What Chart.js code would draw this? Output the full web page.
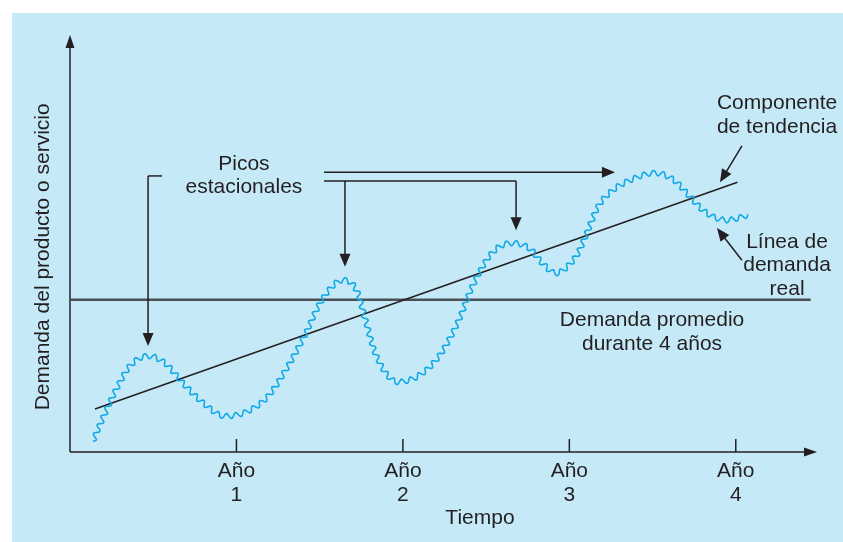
<!DOCTYPE html>
<html>
<head>
<meta charset="utf-8">
<title>Demanda del producto o servicio</title>
<script src="https://cdn.jsdelivr.net/npm/chart.js"></script>
<style>
  html, body { margin: 0; padding: 0; background: #fff; }
  canvas { display: block; }
</style>
</head>
<body>
<canvas id="grafico" width="843" height="542"></canvas>
<script>
  // Datos: x en años (0 = eje vertical), y en unidades de demanda (0-100)
  const demandaX = [0.138, 0.198, 0.270, 0.360, 0.469, 0.571, 0.679, 0.799, 0.931, 1.069,
                    1.190, 1.310, 1.412, 1.514, 1.640, 1.724, 1.772, 1.838, 1.971, 2.103,
                    2.223, 2.331, 2.421, 2.535, 2.656, 2.764, 2.842, 2.920, 2.992, 3.052,
                    3.112, 3.172, 3.256, 3.365, 3.515, 3.635, 3.725, 3.815, 3.947, 4.074];
  const demandaY = [2.6, 8.2, 14.4, 20.6, 23.0, 21.3, 16.5, 11.8, 8.6, 9.8,
                    13.4, 20.6, 28.1, 36.5, 41.2, 38.6, 32.1, 23.3, 16.8, 18.5,
                    23.3, 31.2, 40.0, 47.7, 50.1, 48.7, 45.1, 42.9, 44.6, 47.7,
                    53.2, 58.8, 62.6, 65.2, 66.9, 65.0, 61.2, 57.6, 55.6, 56.8];
  const tendenciaX = [0.15, 4.01];
  const tendenciaY = [10.3, 64.7];
  const promedioX = [0, 4.45];
  const promedioY = [36.5, 36.5];
  const anios = [1, 2, 3, 4];
  const etiquetasAnio = [['Año', '1'], ['Año', '2'], ['Año', '3'], ['Año', '4']];
  const tituloX = 'Tiempo';
  const tituloY = 'Demanda del producto o servicio';

  const FUENTE = '21px "Liberation Sans", Arial, sans-serif';
  const TINTA = '#231f20';
  const CELESTE = '#c6e9f8';
  const ONDA = '#0fa9e6';

  const aPuntos = (xs, ys) => xs.map((x, i) => ({ x: x, y: ys[i] }));

  // flecha con punta rellena
  function flecha(ctx, x0, y0, x1, y1, largo, medio) {
    const ang = Math.atan2(y1 - y0, x1 - x0);
    const c = Math.cos(ang), s = Math.sin(ang);
    ctx.beginPath();
    ctx.moveTo(x0, y0);
    ctx.lineTo(x1 - c * largo * 0.7, y1 - s * largo * 0.7);
    ctx.stroke();
    ctx.beginPath();
    ctx.moveTo(x1, y1);
    ctx.lineTo(x1 - c * largo - s * medio, y1 - s * largo + c * medio);
    ctx.lineTo(x1 - c * largo + s * medio, y1 - s * largo - c * medio);
    ctx.closePath();
    ctx.fill();
  }

  function textos(ctx, lineas, x, y0, paso) {
    lineas.forEach((t, i) => ctx.fillText(t, x, y0 + i * paso));
  }

  const fondo = {
    id: 'fondo',
    beforeDraw(chart) {
      const ctx = chart.ctx;
      ctx.save();
      ctx.fillStyle = '#fff';
      ctx.fillRect(0, 0, chart.width, chart.height);
      ctx.fillStyle = CELESTE;
      ctx.fillRect(12, 13, chart.width - 12, chart.height - 13);
      ctx.restore();
    }
  };

  // ejes, marcas y rotulos
  const ejes = {
    id: 'ejes',
    beforeDatasetsDraw(chart) {
      const { ctx, chartArea: a, scales: { x, y } } = chart;
      ctx.save();
      ctx.strokeStyle = TINTA;
      ctx.fillStyle = TINTA;
      ctx.lineWidth = 1.5;
      flecha(ctx, a.left, a.bottom, a.left, a.top, 13, 4.5);
      flecha(ctx, a.left, a.bottom, a.right - 2, a.bottom, 13, 4.5);
      anios.forEach(v => {
        const px = x.getPixelForValue(v);
        ctx.beginPath();
        ctx.moveTo(px, a.bottom);
        ctx.lineTo(px, a.bottom - 13);
        ctx.stroke();
      });
      ctx.font = FUENTE;
      ctx.textAlign = 'center';
      ctx.textBaseline = 'middle';
      anios.forEach((v, i) => textos(ctx, etiquetasAnio[i], x.getPixelForValue(v), a.bottom + 19, 24));
      ctx.fillText(tituloX, x.getPixelForValue(2.463), a.bottom + 66);
      ctx.translate(a.left - 27, y.getPixelForValue(46.8));
      ctx.rotate(-Math.PI / 2);
      ctx.fillText(tituloY, 0, 0);
      ctx.restore();
    }
  };

  // linea de demanda real con ondulaciones
  const onda = {
    id: 'onda',
    afterDatasetsDraw(chart) {
      const ctx = chart.ctx;
      const meta = chart.getDatasetMeta(0);
      meta.dataset.updateControlPoints(chart.chartArea, 'x');
      const pts = meta.data;
      const ruta = [];
      for (let i = 0; i < pts.length - 1; i++) {
        const p = pts[i], q = pts[i + 1];
        for (let k = 0; k < 40; k++) {
          const t = k / 40, u = 1 - t;
          ruta.push([
            u * u * u * p.x + 3 * u * u * t * p.cp2x + 3 * u * t * t * q.cp1x + t * t * t * q.x,
            u * u * u * p.y + 3 * u * u * t * p.cp2y + 3 * u * t * t * q.cp1y + t * t * t * q.y
          ]);
        }
      }
      const ult = pts[pts.length - 1];
      ruta.push([ult.x, ult.y]);
      ctx.save();
      ctx.strokeStyle = ONDA;
      ctx.lineWidth = 1.6;
      ctx.lineJoin = 'round';
      ctx.beginPath();
      let s = 0;
      for (let i = 0; i < ruta.length; i++) {
        if (i > 0) s += Math.hypot(ruta[i][0] - ruta[i - 1][0], ruta[i][1] - ruta[i - 1][1]);
        const a = ruta[Math.max(0, i - 1)], b = ruta[Math.min(ruta.length - 1, i + 1)];
        const d = Math.hypot(b[0] - a[0], b[1] - a[1]) || 1;
        const nx = -(b[1] - a[1]) / d, ny = (b[0] - a[0]) / d;
        const off = 2.6 * Math.sin(2 * Math.PI * s / 9.5);
        const px = ruta[i][0] + nx * off, py = ruta[i][1] + ny * off;
        if (i === 0) ctx.moveTo(px, py); else ctx.lineTo(px, py);
      }
      ctx.stroke();
      ctx.restore();
    }
  };

  // anotaciones: picos, tendencia, demanda real y promedio
  const notas = {
    id: 'notas',
    afterDraw(chart) {
      const { ctx, scales: { x, y } } = chart;
      const X = v => x.getPixelForValue(v), Y = v => y.getPixelForValue(v);
      ctx.save();
      ctx.strokeStyle = TINTA;
      ctx.fillStyle = TINTA;
      ctx.lineWidth = 1.5;

      // corchete hacia el primer pico
      ctx.beginPath();
      ctx.moveTo(X(0.553), Y(66.2));
      ctx.lineTo(X(0.469), Y(66.2));
      ctx.stroke();
      flecha(ctx, X(0.469), Y(66.2), X(0.469), Y(25.4), 13, 5.5);
      // flecha superior al cuarto pico
      flecha(ctx, X(1.526), Y(67.1), X(3.274), Y(67.1), 13, 5.5);
      // linea inferior hacia segundo y tercer pico
      ctx.beginPath();
      ctx.moveTo(X(1.526), Y(65.0));
      ctx.lineTo(X(2.680), Y(65.0));
      ctx.stroke();
      flecha(ctx, X(2.680), Y(65.0), X(2.680), Y(53.2), 13, 5.5);
      flecha(ctx, X(1.652), Y(65.0), X(1.652), Y(44.4), 13, 5.5);
      // flechas de componente de tendencia y linea de demanda
      flecha(ctx, X(4.037), Y(73.4), X(3.905), Y(64.7), 13, 5.5);
      flecha(ctx, X(4.037), Y(46.0), X(3.887), Y(53.7), 13, 5.5);

      ctx.font = FUENTE;
      ctx.textAlign = 'center';
      ctx.textBaseline = 'middle';
      textos(ctx, ['Picos', 'estacionales'], X(1.045), Y(69.1), 23);
      textos(ctx, ['Componente', 'de tendencia'], X(4.248), Y(83.7), 24);
      textos(ctx, ['Línea de', 'demanda', 'real'], X(4.308), Y(50.4), 23.5);
      textos(ctx, ['Demanda promedio', 'durante 4 años'], X(3.497), Y(31.7), 24);
      ctx.restore();
    }
  };

  new Chart(document.getElementById('grafico'), {
    type: 'line',
    data: {
      datasets: [
        {
          label: 'Línea de demanda real',
          data: aPuntos(demandaX, demandaY),
          borderColor: 'rgba(0,0,0,0)',
          borderWidth: 1,
          cubicInterpolationMode: 'monotone',
          pointRadius: 0
        },
        {
          label: 'Componente de tendencia',
          data: aPuntos(tendenciaX, tendenciaY),
          borderColor: TINTA,
          borderWidth: 1.5,
          pointRadius: 0
        },
        {
          label: 'Demanda promedio durante 4 años',
          data: aPuntos(promedioX, promedioY),
          borderColor: '#4a4f55',
          borderWidth: 2.5,
          pointRadius: 0
        }
      ]
    },
    options: {
      responsive: false,
      devicePixelRatio: 1,
      animation: false,
      events: [],
      layout: { padding: { left: 70, right: 24, top: 35, bottom: 90 } },
      plugins: { legend: { display: false }, tooltip: { enabled: false } },
      scales: {
        x: { type: 'linear', min: 0, max: 4.5, display: false },
        y: { type: 'linear', min: 0, max: 100, display: false }
      }
    },
    plugins: [fondo, ejes, onda, notas]
  });
</script>
</body>
</html>
